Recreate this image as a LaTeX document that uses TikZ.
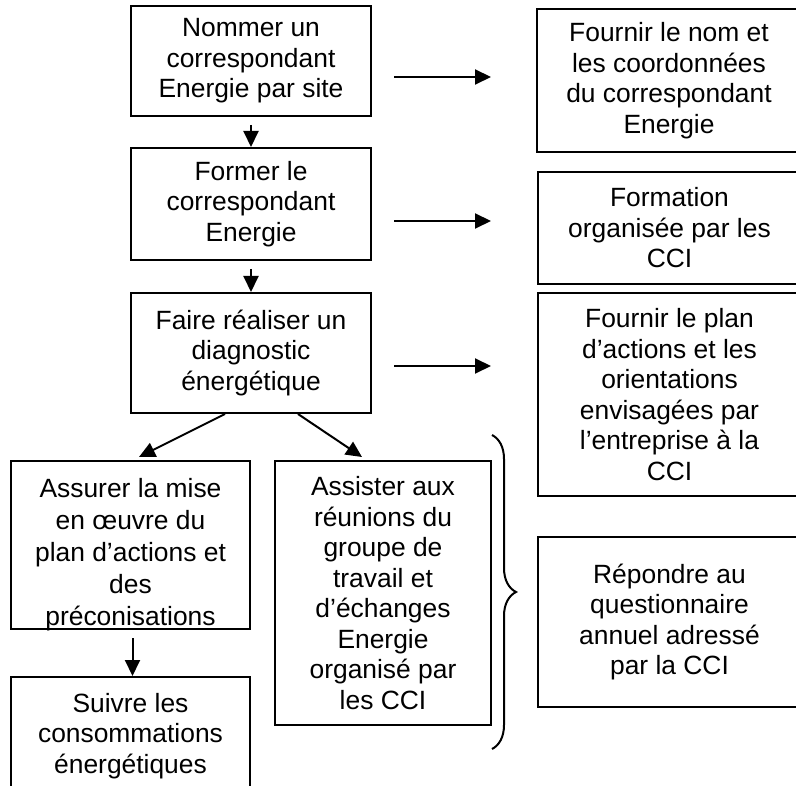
\documentclass[tikz,border=0pt]{standalone}
\usepackage{fontspec}
\setmainfont{Liberation Sans}
\usetikzlibrary{arrows.meta, calc, decorations.pathreplacing, positioning}

\begin{document}
\begin{tikzpicture}[x=1pt, y=-1pt, line width=2pt, >={Triangle[length=16pt,width=15pt]},
    boite/.style={draw, line width=2pt, align=center, inner sep=0pt, font=\fontsize{26.4}{30.5}\selectfont},
    texte/.style={align=center, inner sep=0pt, font=\fontsize{26.4}{32}\selectfont}]
    \useasboundingbox (0,0) rectangle (796,786);
    \clip (0,0) rectangle (796,786);

    % Etapes de l'entreprise
    \node[boite, minimum width=240pt, minimum height=110pt] (nommer) at (251,61) {Nommer un\\correspondant\\Energie par site};
    \node[boite, minimum width=240pt, minimum height=112pt] (former) at (251,204) {Former le\\correspondant\\Energie};
    \node[boite, minimum width=240pt, minimum height=120pt] (diagnostic) at (251,353) {Faire réaliser un\\diagnostic\\énergétique};
    \node[boite, minimum width=239pt, minimum height=168pt] (assurer) at (130.5,545) {};
    \begin{scope}
        \clip (assurer.south west) rectangle (assurer.north east);
        \node[texte] at ($(assurer.center)+(0,10)$) {Assurer la mise\\en œuvre du\\plan d’actions et\\des\\préconisations};
    \end{scope}
    \node[boite, minimum width=216pt, minimum height=264pt] (assister) at (383,593) {Assister aux\\réunions du\\groupe de\\travail et\\d’échanges\\Energie\\organisé par\\les CCI};
    \node[boite, minimum width=239pt, minimum height=118pt] (suivre) at (130.5,736) {Suivre les\\consommations\\énergétiques};

    % Engagements vers la CCI
    \node[boite, minimum width=264pt, minimum height=143pt] (nom) at (669,80.5) {Fournir le nom et\\les coordonnées\\du correspondant\\Energie};
    \node[boite, minimum width=263pt, minimum height=112pt] (formation) at (669.5,228) {Formation\\organisée par les\\CCI};
    \node[boite, minimum width=263pt, minimum height=203pt] (plan) at (669.5,394.5) {Fournir le plan\\d’actions et les\\orientations\\envisagées par\\l’entreprise à la\\CCI};
    \node[boite, minimum width=263pt, minimum height=170pt] (questionnaire) at (669.5,622) {Répondre au\\questionnaire\\annuel adressé\\par la CCI};

    % Fleches verticales
    \draw[->] ([yshift=-8pt]nommer.south) -- (former.north);
    \draw[->] ([yshift=-8pt]former.south) -- (diagnostic.north);
    \draw[->] ([xshift=2pt,yshift=-8pt]assurer.south) -- ([xshift=2pt]suivre.north);
    \draw[->] ($(diagnostic.south west)+(95,0)$) -- ($(assurer.north west)+(129,-3)$);
    \draw[->] ($(diagnostic.south west)+(168,0)$) -- ($(assister.north west)+(88,-3)$);

    % Fleches horizontales
    \coordinate (depart1) at (394,77);
    \coordinate (fin1) at (491,77);
    \coordinate (depart2) at (394,221);
    \coordinate (fin2) at (491,221);
    \coordinate (depart3) at (394,366);
    \coordinate (fin3) at (491,366);
    \foreach \i in {1,2,3}
        \draw[->] (depart\i) -- (fin\i);

    % Accolade
    \draw[decorate, decoration={brace, amplitude=24pt}] ($(assister.north east)+(0,-25)$) -- ($(assister.south east)+(0,23)$);
\end{tikzpicture}
\end{document}
